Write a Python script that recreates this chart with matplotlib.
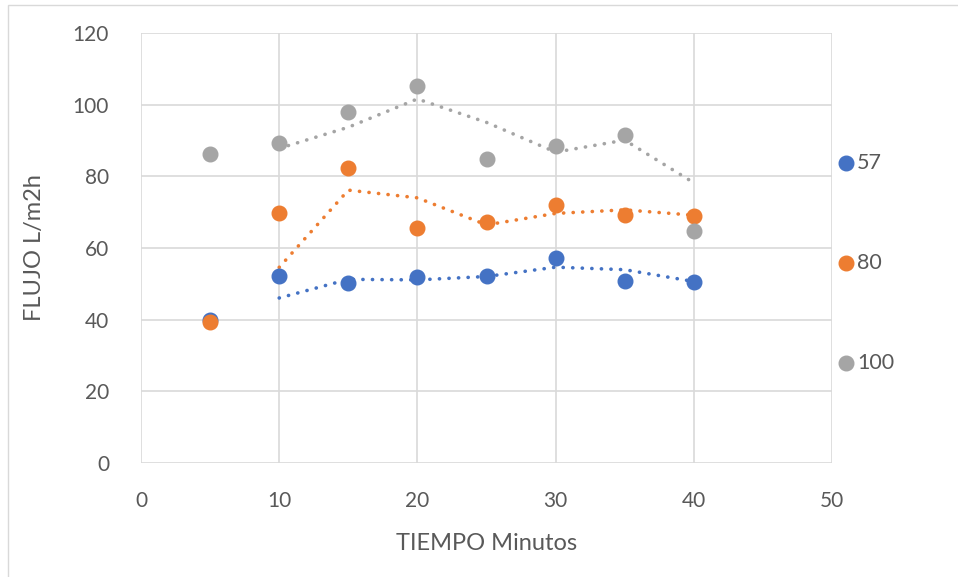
import numpy as np
import pandas as pd
import matplotlib
matplotlib.use("Agg")
import matplotlib.pyplot as plt
from matplotlib.patches import Rectangle

plt.rcParams['font.family'] = ['Lato', 'DejaVu Sans']

# datos
tiempo = [5, 10, 15, 20, 25, 30, 35, 40]
flujo_57 = [39.9, 52.2, 50.3, 51.9, 52.2, 57.1, 50.8, 50.5]
flujo_80 = [39.3, 69.9, 82.4, 65.6, 67.3, 72.0, 69.3, 69.0]
flujo_100 = [86.2, 89.4, 98.0, 105.2, 84.9, 88.6, 91.6, 64.8]
series_names = ['57', '80', '100']
colors = ['#4472C4', '#ED7D31', '#A5A5A5']
text_color = '#595959'

fig = plt.figure(figsize=(9.58, 5.77), dpi=100)
ax = fig.add_axes([141/958, 1 - 463/577, (832 - 141)/958, (463 - 33)/577])

# marco del grafico (recortado arriba y a la izquierda)
fig.patches.append(Rectangle((8/958, -0.1), 1.2, 1 - 5/577 + 0.1, transform=fig.transFigure,
                             fill=False, edgecolor='#D9D9D9', linewidth=1))

# titulo: casi todo queda fuera de la imagen, solo asoman los trazos bajos
fig.text(86/958, 1.0 + 5/577, 'Comparativo y eficiencia', transform=fig.transFigure,
         fontsize=18, fontweight='bold', ha='left', va='baseline', color='black')

for ys, c in zip([flujo_57, flujo_80, flujo_100], colors):
    # linea de tendencia: media movil de 2 periodos
    ma = pd.Series(ys).rolling(2).mean()
    ax.plot(tiempo, ma, color=c, linestyle=(0, (0.05, 2.6)), linewidth=2.6,
            dash_capstyle='round', zorder=2)
    ax.plot(tiempo, ys, 'o', color=c, markersize=10.5, zorder=3)

ax.set_xlim(0, 50)
ax.set_ylim(0, 120)
ax.set_xticks(np.arange(0, 51, 10))
ax.set_yticks(np.arange(0, 121, 20))
ax.grid(True, color='#D9D9D9', linewidth=1.2)
ax.set_axisbelow(True)
for s in ax.spines.values():
    s.set_visible(False)
ax.tick_params(length=0, labelsize=15, colors=text_color, pad=20)
ax.tick_params(axis='y', pad=23)

ax.set_xlabel('TIEMPO Minutos', fontsize=17, color=text_color, labelpad=16)
ax.set_ylabel('FLUJO L/m2h', fontsize=17, color=text_color, labelpad=20)

# leyenda a la derecha
for name, c, py in zip(series_names, colors, [163, 263, 363]):
    fig.lines.append(plt.Line2D([846/958], [1 - py/577], marker='o', color=c, markersize=10.5,
                                transform=fig.transFigure))
    fig.text(857/958, 1 - py/577, name, fontsize=15.5, color=text_color, va='center', ha='left')

fig.savefig('out.png', dpi=100)
